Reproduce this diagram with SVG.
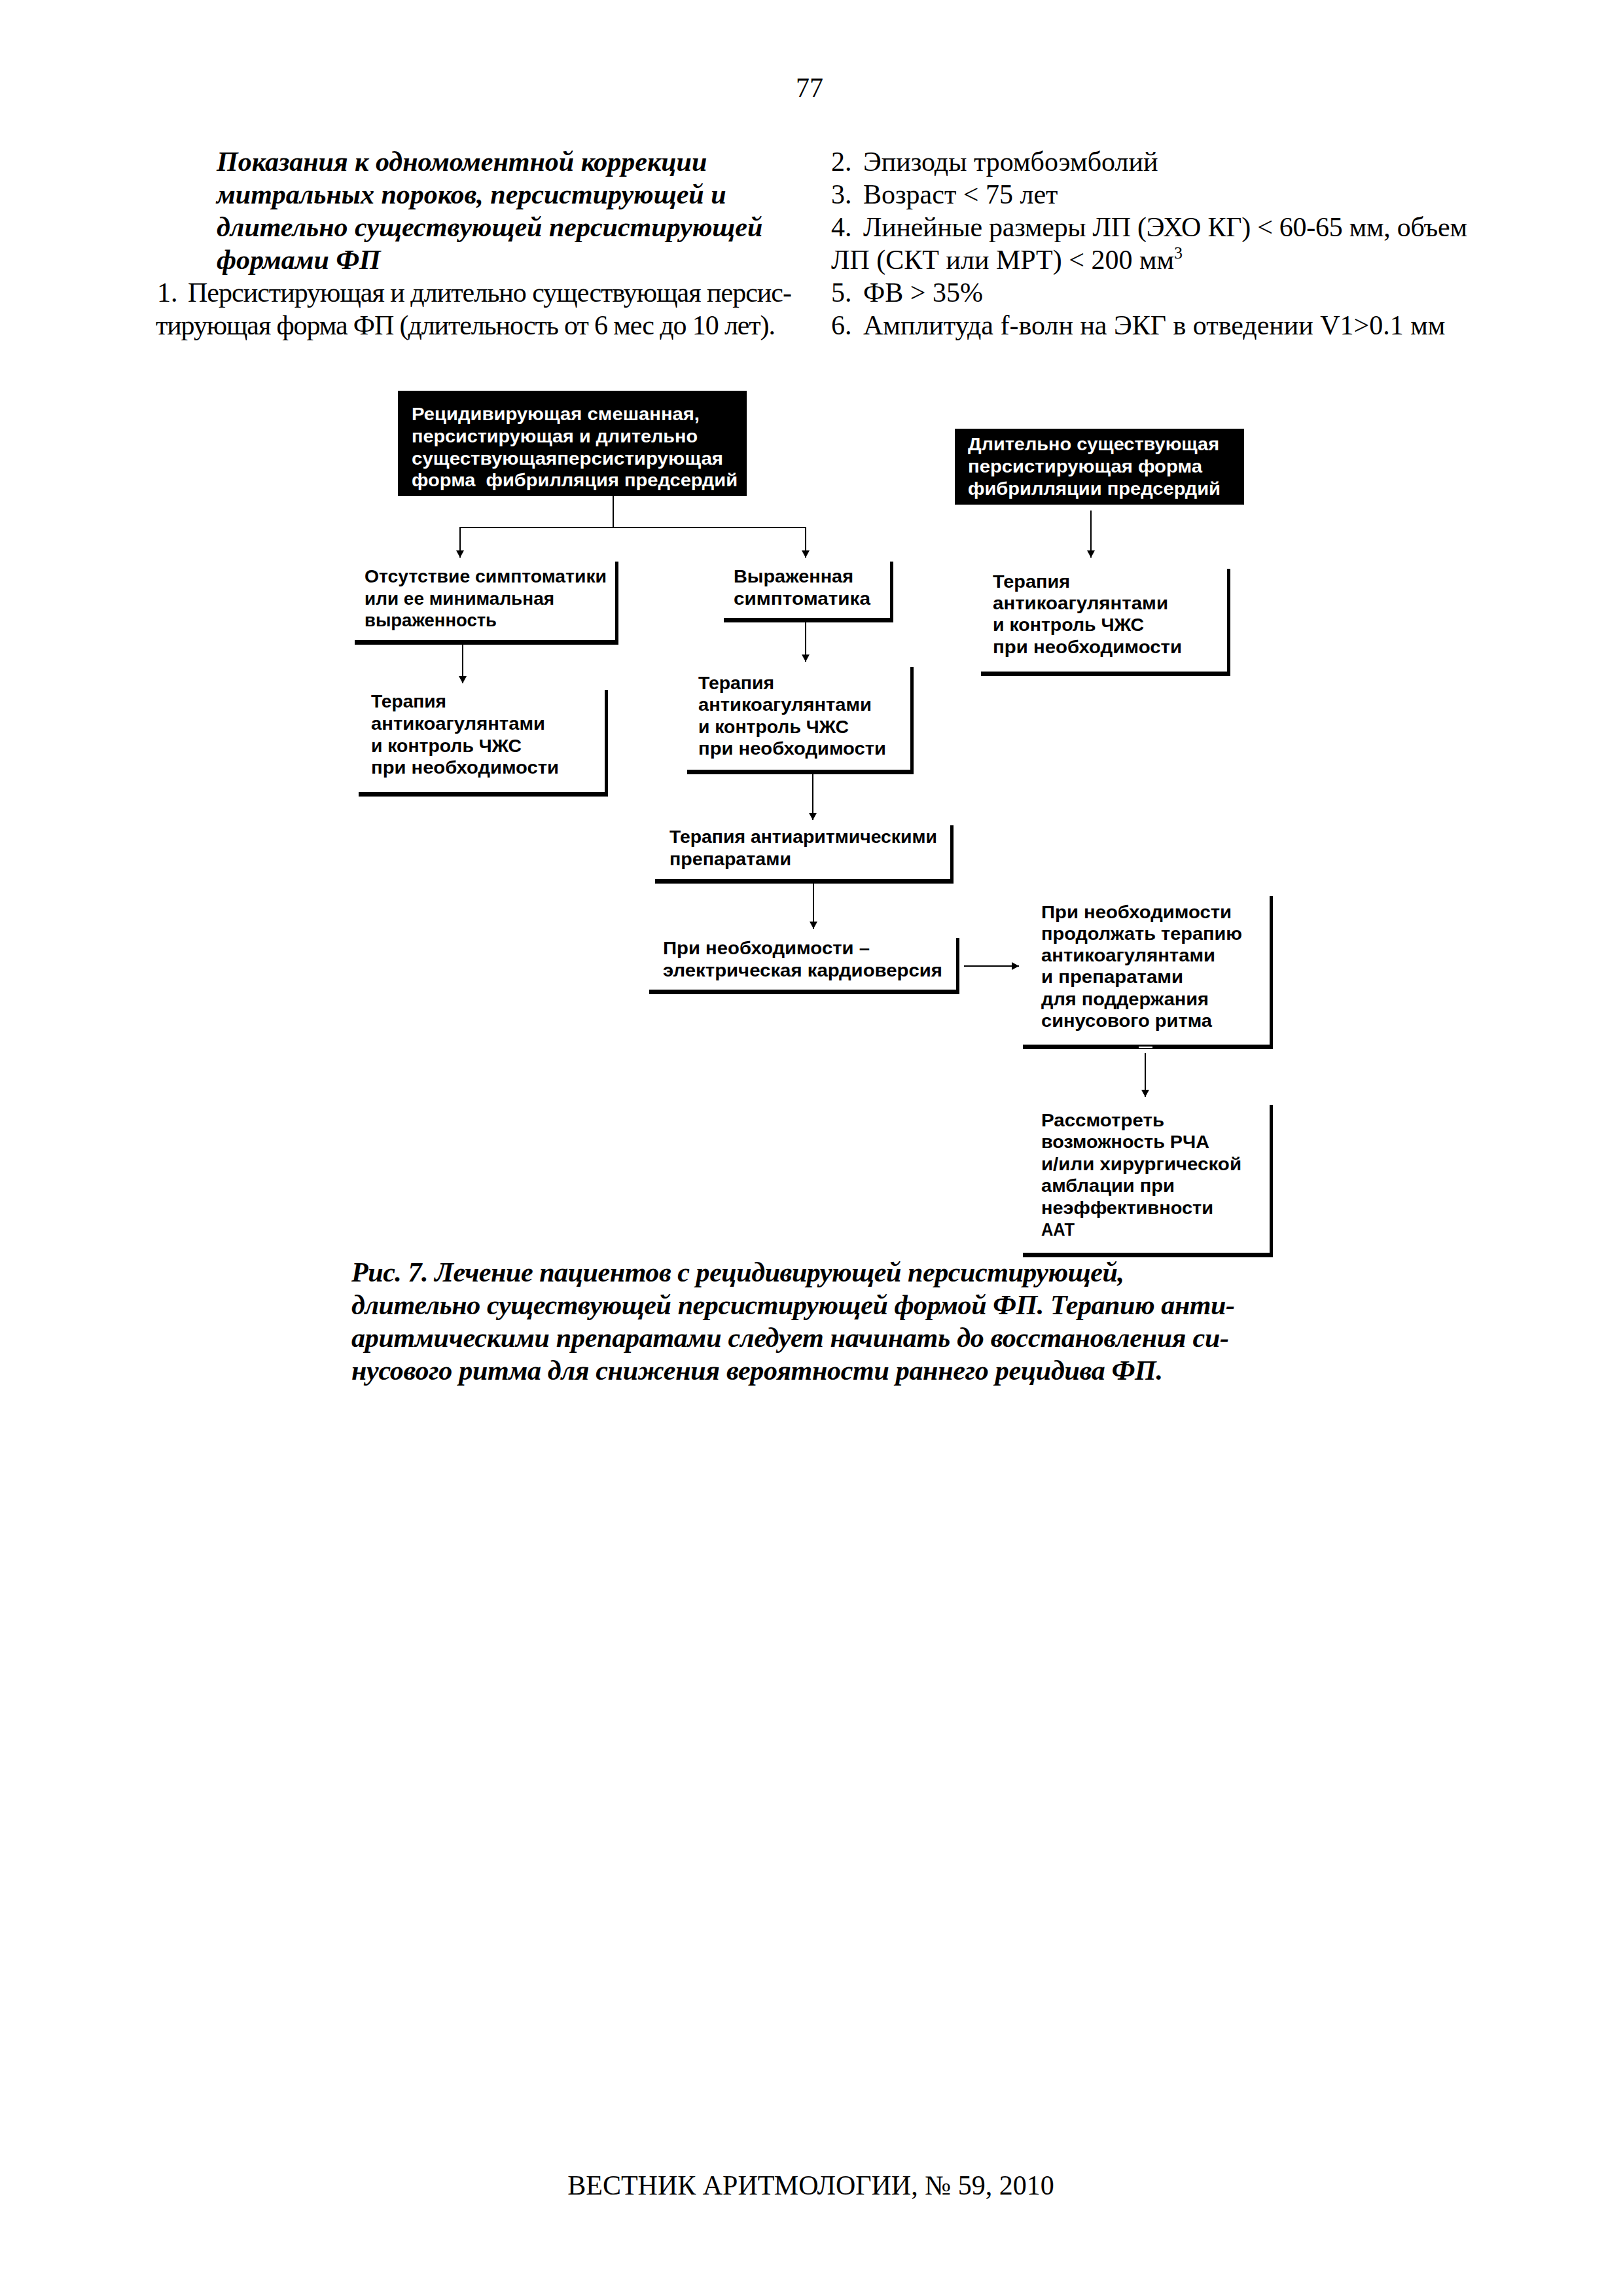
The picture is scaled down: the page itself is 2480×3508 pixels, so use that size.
<svg xmlns="http://www.w3.org/2000/svg" width="2480" height="3508" viewBox="0 0 2480 3508">
<style>
.body{font-family:"Liberation Serif","Times New Roman",serif;font-size:42px;fill:#000}
.bi{font-family:"Liberation Serif","Times New Roman",serif;font-size:42px;font-weight:bold;font-style:italic;fill:#000}
.nt{font-family:"Liberation Sans",Arial,sans-serif;font-size:27px;font-weight:bold;fill:#000}
.wt{font-family:"Liberation Sans",Arial,sans-serif;font-size:27px;font-weight:bold;fill:#fff}
.conn{stroke:#000;stroke-width:2;fill:none}
.bar{fill:#000}
</style>
<defs>
<marker id="arr" markerUnits="userSpaceOnUse" markerWidth="11" markerHeight="12" refX="11" refY="6" orient="auto">
<path d="M0,0 L11,6 L0,12 z" fill="#000"/>
</marker>
</defs>
<rect width="2480" height="3508" fill="#fff"/>

<g id="page-text">
<text class="body" x="1237" y="148" text-anchor="middle">77</text>
<text class="bi" x="331" y="261">Показания к одномоментной коррекции</text>
<text class="bi" x="331" y="311">митральных пороков, персистирующей и</text>
<text class="bi" x="331" y="361">длительно существующей персистирующей</text>
<text class="bi" x="331" y="411">формами ФП</text>
<text class="body" y="461"><tspan x="240">1.</tspan><tspan x="287" textLength="923" lengthAdjust="spacing">Персистирующая и длительно существующая персис-</tspan></text>
<text class="body" x="238" y="511" textLength="947" lengthAdjust="spacing">тирующая форма ФП (длительность от 6 мес до 10 лет).</text>
<text class="body" y="261"><tspan x="1270">2.</tspan><tspan x="1319">Эпизоды тромбоэмболий</tspan></text>
<text class="body" y="311"><tspan x="1270">3.</tspan><tspan x="1319">Возраст &lt; 75 лет</tspan></text>
<text class="body" y="361"><tspan x="1270">4.</tspan><tspan x="1319" textLength="923" lengthAdjust="spacing">Линейные размеры ЛП (ЭХО КГ) &lt; 60-65 мм, объем</tspan></text>
<text class="body" x="1270" y="411">ЛП (СКТ или МРТ) &lt; 200 мм<tspan font-size="26" dy="-16">3</tspan></text>
<text class="body" y="461"><tspan x="1270">5.</tspan><tspan x="1319">ФВ &gt; 35%</tspan></text>
<text class="body" y="511"><tspan x="1270">6.</tspan><tspan x="1319">Амплитуда f-волн на ЭКГ в отведении V1&gt;0.1 мм</tspan></text>
</g>

<g id="node-A">
<rect x="608" y="597" width="533" height="161" fill="#000"/>
<text class="wt" x="629" y="642" textLength="440" lengthAdjust="spacingAndGlyphs">Рецидивирующая смешанная,</text>
<text class="wt" x="629" y="676" textLength="437" lengthAdjust="spacingAndGlyphs">персистирующая и длительно</text>
<text class="wt" x="629" y="710" textLength="476" lengthAdjust="spacingAndGlyphs">существующаяперсистирующая</text>
<text class="wt" x="629" y="743" textLength="498" lengthAdjust="spacingAndGlyphs" xml:space="preserve">форма  фибрилляция предсердий</text>
</g>

<g id="node-B">
<rect x="1459" y="655" width="442" height="116" fill="#000"/>
<text class="wt" x="1479" y="688" textLength="384" lengthAdjust="spacingAndGlyphs">Длительно существующая</text>
<text class="wt" x="1479" y="722" textLength="358" lengthAdjust="spacingAndGlyphs">персистирующая форма</text>
<text class="wt" x="1479" y="756" textLength="386" lengthAdjust="spacingAndGlyphs">фибрилляции предсердий</text>
</g>

<g id="node-C">
<rect class="bar" x="940" y="858" width="5" height="127"/>
<rect class="bar" x="542" y="978" width="403" height="7"/>
<text class="nt" x="557" y="890" textLength="370" lengthAdjust="spacingAndGlyphs">Отсутствие симптоматики</text>
<text class="nt" x="557" y="924" textLength="290" lengthAdjust="spacingAndGlyphs">или ее минимальная</text>
<text class="nt" x="557" y="957" textLength="202" lengthAdjust="spacingAndGlyphs">выраженность</text>
</g>

<g id="node-E">
<rect class="bar" x="1360" y="858" width="5" height="93"/>
<rect class="bar" x="1106" y="944" width="259" height="7"/>
<text class="nt" x="1121" y="890" textLength="183" lengthAdjust="spacingAndGlyphs">Выраженная</text>
<text class="nt" x="1121" y="924" textLength="209" lengthAdjust="spacingAndGlyphs">симптоматика</text>
</g>

<g id="node-F">
<rect class="bar" x="1875" y="869" width="5" height="164"/>
<rect class="bar" x="1499" y="1026" width="381" height="7"/>
<text class="nt" x="1517" y="898" textLength="118" lengthAdjust="spacingAndGlyphs">Терапия</text>
<text class="nt" x="1517" y="931" textLength="268" lengthAdjust="spacingAndGlyphs">антикоагулянтами</text>
<text class="nt" x="1517" y="964" textLength="231" lengthAdjust="spacingAndGlyphs">и контроль ЧЖС</text>
<text class="nt" x="1517" y="998" textLength="289" lengthAdjust="spacingAndGlyphs">при необходимости</text>
</g>

<g id="node-D">
<rect class="bar" x="924" y="1054" width="5" height="163"/>
<rect class="bar" x="548" y="1210" width="381" height="7"/>
<text class="nt" x="567" y="1081" textLength="115" lengthAdjust="spacingAndGlyphs">Терапия</text>
<text class="nt" x="567" y="1115" textLength="266" lengthAdjust="spacingAndGlyphs">антикоагулянтами</text>
<text class="nt" x="567" y="1149" textLength="230" lengthAdjust="spacingAndGlyphs">и контроль ЧЖС</text>
<text class="nt" x="567" y="1182" textLength="287" lengthAdjust="spacingAndGlyphs">при необходимости</text>
</g>

<g id="node-G">
<rect class="bar" x="1391" y="1019" width="5" height="164"/>
<rect class="bar" x="1050" y="1176" width="346" height="7"/>
<text class="nt" x="1067" y="1053" textLength="116" lengthAdjust="spacingAndGlyphs">Терапия</text>
<text class="nt" x="1067" y="1086" textLength="265" lengthAdjust="spacingAndGlyphs">антикоагулянтами</text>
<text class="nt" x="1067" y="1120" textLength="230" lengthAdjust="spacingAndGlyphs">и контроль ЧЖС</text>
<text class="nt" x="1067" y="1153" textLength="287" lengthAdjust="spacingAndGlyphs">при необходимости</text>
</g>

<g id="node-H">
<rect class="bar" x="1452" y="1261" width="5" height="89"/>
<rect class="bar" x="1001" y="1343" width="456" height="7"/>
<text class="nt" x="1023" y="1288" textLength="409" lengthAdjust="spacingAndGlyphs">Терапия антиаритмическими</text>
<text class="nt" x="1023" y="1322" textLength="186" lengthAdjust="spacingAndGlyphs">препаратами</text>
</g>

<g id="node-I">
<rect class="bar" x="1461" y="1433" width="5" height="86"/>
<rect class="bar" x="992" y="1512" width="474" height="7"/>
<text class="nt" x="1013" y="1458" textLength="316" lengthAdjust="spacingAndGlyphs">При необходимости –</text>
<text class="nt" x="1013" y="1492" textLength="427" lengthAdjust="spacingAndGlyphs">электрическая кардиоверсия</text>
</g>

<g id="node-J">
<rect class="bar" x="1940" y="1369" width="5" height="234"/>
<rect class="bar" x="1563" y="1596" width="382" height="7"/>
<rect x="1740" y="1599" width="21" height="2" fill="#fff"/>
<text class="nt" x="1591" y="1403" textLength="291" lengthAdjust="spacingAndGlyphs">При необходимости</text>
<text class="nt" x="1591" y="1436" textLength="307" lengthAdjust="spacingAndGlyphs">продолжать терапию</text>
<text class="nt" x="1591" y="1469" textLength="266" lengthAdjust="spacingAndGlyphs">антикоагулянтами</text>
<text class="nt" x="1591" y="1502" textLength="217" lengthAdjust="spacingAndGlyphs">и препаратами</text>
<text class="nt" x="1591" y="1536" textLength="256" lengthAdjust="spacingAndGlyphs">для поддержания</text>
<text class="nt" x="1591" y="1569" textLength="261" lengthAdjust="spacingAndGlyphs">синусового ритма</text>
</g>

<g id="node-K">
<rect class="bar" x="1940" y="1688" width="5" height="233"/>
<rect class="bar" x="1563" y="1914" width="382" height="7"/>
<text class="nt" x="1591" y="1721" textLength="188" lengthAdjust="spacingAndGlyphs">Рассмотреть</text>
<text class="nt" x="1591" y="1754" textLength="257" lengthAdjust="spacingAndGlyphs">возможность РЧА</text>
<text class="nt" x="1591" y="1788" textLength="306" lengthAdjust="spacingAndGlyphs">и/или хирургической</text>
<text class="nt" x="1591" y="1821" textLength="204" lengthAdjust="spacingAndGlyphs">амблации при</text>
<text class="nt" x="1591" y="1855" textLength="263" lengthAdjust="spacingAndGlyphs">неэффективности</text>
<text class="nt" x="1591" y="1888" textLength="51" lengthAdjust="spacingAndGlyphs">ААТ</text>
</g>

<g id="connectors">
<line class="conn" x1="937" y1="758" x2="937" y2="806" stroke-width="3"/>
<line class="conn" x1="702" y1="806" x2="1232" y2="806" stroke-width="3"/>
<line class="conn" x1="703" y1="806" x2="703" y2="852" marker-end="url(#arr)"/>
<line class="conn" x1="1231" y1="806" x2="1231" y2="852" marker-end="url(#arr)"/>
<line class="conn" x1="1667" y1="780" x2="1667" y2="852" marker-end="url(#arr)"/>
<line class="conn" x1="707" y1="985" x2="707" y2="1044" marker-end="url(#arr)"/>
<line class="conn" x1="1231" y1="951" x2="1231" y2="1011" marker-end="url(#arr)"/>
<line class="conn" x1="1242" y1="1183" x2="1242" y2="1253" marker-end="url(#arr)"/>
<line class="conn" x1="1243" y1="1350" x2="1243" y2="1419" marker-end="url(#arr)"/>
<line class="conn" x1="1473" y1="1476" x2="1557" y2="1476" marker-end="url(#arr)"/>
<line class="conn" x1="1750" y1="1609" x2="1750" y2="1676" marker-end="url(#arr)"/>
</g>

<g id="caption">
<text class="bi" x="537" y="1958" textLength="1181" lengthAdjust="spacing">Рис. 7. Лечение пациентов с рецидивирующей персистирующей,</text>
<text class="bi" x="537" y="2008" textLength="1350" lengthAdjust="spacing">длительно существующей персистирующей формой ФП. Терапию анти-</text>
<text class="bi" x="537" y="2058" textLength="1341" lengthAdjust="spacing">аритмическими препаратами следует начинать до восстановления си-</text>
<text class="bi" x="537" y="2108" textLength="1240" lengthAdjust="spacing">нусового ритма для снижения вероятности раннего рецидива ФП.</text>
</g>

<g id="footer">
<text class="body" x="1239" y="3353" text-anchor="middle">ВЕСТНИК АРИТМОЛОГИИ, № 59, 2010</text>
</g>
</svg>
